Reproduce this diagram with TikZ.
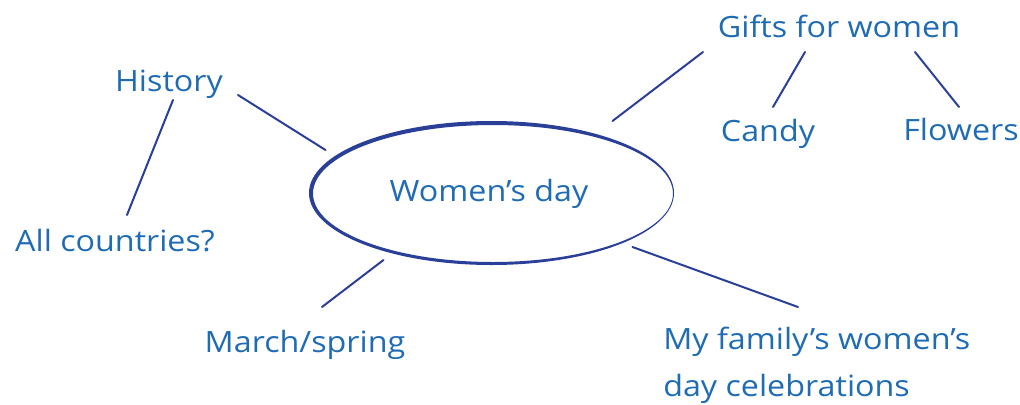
\documentclass[tikz,border=0pt]{standalone}
\usepackage{fontspec}
\setmainfont{Open Sans}[FakeStretch=1.1]
\usetikzlibrary{shapes.geometric}
\definecolor{txtblue}{HTML}{1F6CB4}
\definecolor{lineblue}{HTML}{2A3F98}
\tikzset{
  lbl/.style={text=txtblue, inner sep=0pt, font=\fontsize{22}{35}\selectfont},
  conn/.style={draw=lineblue, line width=1.5pt, line cap=round},
}
\begin{document}
\begin{tikzpicture}[x=0.75pt,y=-0.75pt]
\useasboundingbox (0,0) rectangle (1020,404);
% central ellipse
\node[ellipse, minimum width=273pt, minimum height=108pt, inner sep=0pt] (ell) at (491.5,193) {};
\fill[lineblue, even odd rule] (ell.center) ellipse [x radius=182.5, y radius=72]
  ([shift={(1.5,0.5)}]ell.center) ellipse [x radius=180, y radius=68.5];
\node[lbl, anchor=base] (wd) at (489,201) {Women’s day};
% labels
\node[lbl, anchor=base] (gifts) at (839,37) {Gifts for women};
\node[lbl, anchor=base] (candy) at (768,141) {Candy};
\node[lbl, anchor=base] (flowers) at (961,140) {Flowers};
\node[lbl, anchor=base] (hist) at (169,91) {History};
\node[lbl, anchor=base] (allc) at (115,251) {All countries?};
\node[lbl, anchor=base] (march) at (305,352) {March/spring};
\node[lbl, anchor=north west, align=left] (fam) at (663,327) {My family’s women’s\\day celebrations};
% connectors
\draw[conn] ([shift={(69,4)}]hist.base) -- ([shift={(-166,-43)}]ell.center);
\draw[conn] ([shift={(4,9)}]hist.base) -- ([shift={(12,-36)}]allc.base);
\draw[conn] ([shift={(-136,15)}]gifts.base) -- ([shift={(121,-72)}]ell.center);
\draw[conn] ([shift={(-34,15)}]gifts.base) -- ([shift={(5,-34)}]candy.base);
\draw[conn] ([shift={(76,15)}]gifts.base) -- ([shift={(-2,-33)}]flowers.base);
\draw[conn] ([shift={(17,-45)}]march.base) -- ([shift={(-108,67)}]ell.center);
\draw[conn] ([shift={(135,-20)}]fam.north west) -- ([shift={(141,54)}]ell.center);
\end{tikzpicture}
\end{document}
